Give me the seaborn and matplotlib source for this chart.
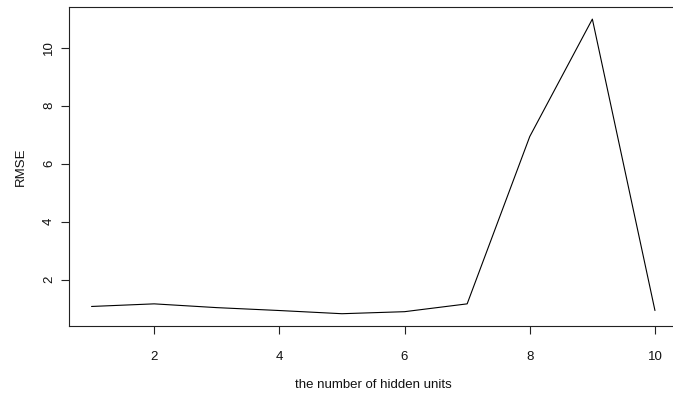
import matplotlib
matplotlib.use("Agg")
import matplotlib.pyplot as plt
import seaborn as sns
import pandas as pd

hidden_units = [1, 2, 3, 4, 5, 6, 7, 8, 9, 10]
rmse = [1.08, 1.17, 1.04, 0.94, 0.83, 0.90, 1.17, 6.94, 10.99, 0.94]
x_ticks = [2, 4, 6, 8, 10]
y_ticks = [2, 4, 6, 8, 10]

sns.set_theme(style="white")
plt.rcParams['font.family'] = ['Liberation Sans', 'DejaVu Sans']

df = pd.DataFrame({"units": hidden_units, "rmse": rmse})

fig = plt.figure(figsize=(6.73, 3.93), dpi=100)
W, H = 673, 393
left, right, top, bottom = 69, 677.5, 7.3, 325.5
ax = fig.add_axes([left / W, 1 - bottom / H, (right - left) / W, (bottom - top) / H])

sns.lineplot(data=df, x="units", y="rmse", ax=ax, color="black", linewidth=0.8)

xr = max(hidden_units) - min(hidden_units)
ax.set_xlim(min(hidden_units) - 0.04 * xr, max(hidden_units) + 0.04 * xr)
yr = max(rmse) - min(rmse)
ax.set_ylim(min(rmse) - 0.04 * yr, max(rmse) + 0.04 * yr)

ax.set_xticks(x_ticks)
ax.set_xticklabels([str(t) for t in x_ticks])
ax.set_yticks(y_ticks)
ax.set_yticklabels([str(t) for t in y_ticks], rotation=90, va="center")

for s in ax.spines.values():
    s.set_visible(True)
    s.set_color("#222222")
    s.set_linewidth(0.8)

ax.tick_params(axis="both", which="major", direction="out", length=6, width=0.8,
               color="#222222", labelsize=9.5, labelcolor="#111111",
               bottom=True, left=True)
ax.tick_params(axis="x", pad=12)
ax.tick_params(axis="y", pad=4)
ax.set_xlabel("the number of hidden units", fontsize=9.5, color="#111111", labelpad=12)
ax.set_ylabel("RMSE", fontsize=9.5, color="#111111", labelpad=12)

fig.savefig("out.png", dpi=100)
